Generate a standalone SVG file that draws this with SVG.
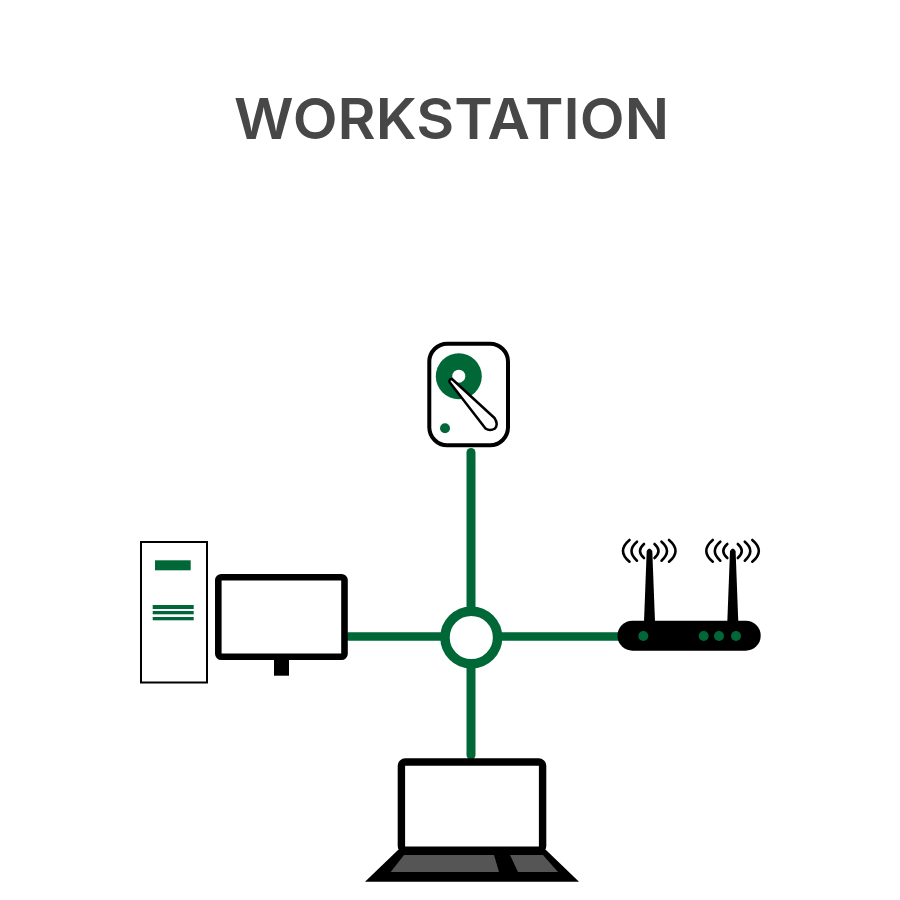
<svg xmlns="http://www.w3.org/2000/svg" width="900" height="900" viewBox="0 0 900 900">
<style>
.title{font-family:"Inter","Liberation Sans",sans-serif;font-size:57px;font-weight:600;fill:#474747}
.green{fill:#006837}
.k{fill:#000}
.w{fill:#fff}
.wave{fill:none;stroke:#000;stroke-width:2.600;stroke-linecap:round}
.gray{fill:#555}
</style>
<rect width="900" height="900" fill="#fff"/>
<text class="title" x="234" y="138.500" textLength="435" lengthAdjust="spacingAndGlyphs">WORKSTATION</text>
<g id="connectors" fill="none" stroke="#006837" stroke-linecap="round">
<path d="M471 452.500V755" stroke-width="9"/>
<path d="M349 636.500H622" stroke-width="8.500"/>
</g>
<g id="hub"><circle cx="471.300" cy="637.500" r="26.300" fill="#fff" stroke="#006837" stroke-width="9.500"/></g>
<g id="disk">
<rect x="429.300" y="343.700" width="78.700" height="101.600" rx="18" fill="#fff" stroke="#000" stroke-width="4"/>
<circle class="green" cx="458.800" cy="376.200" r="23"/>
<circle class="w" cx="458.800" cy="376.200" r="6.500"/>
<path d="M449.500 382Q449 379 452 379L494.500 418Q498.500 424 495 428.500Q490 431.500 485.500 428.500Z" fill="#fff" stroke="#000" stroke-width="2.500" stroke-linejoin="round"/>
<circle class="green" cx="445" cy="428.300" r="5"/>
</g>
<g id="router">
<rect class="k" x="617.500" y="620.700" width="143.200" height="30" rx="15"/>
<path class="k" d="M644 622L646.700 551Q649.300 546 652.300 551L655 622Z"/>
<path class="k" d="M727.300 622L730 551Q732.800 546 735.600 551L738.300 622Z"/>
<circle class="green" cx="643.300" cy="636" r="5"/>
<circle class="green" cx="703.700" cy="636" r="5"/>
<circle class="green" cx="719" cy="636" r="5"/>
<circle class="green" cx="736" cy="636" r="5"/>
<g class="wave">
<path d="M644 544Q636 551 644 558M637 541.700Q626 551 637 560.700M629.500 540Q616.500 551 629.500 561.700"/>
<path d="M654.500 544Q662.500 551 654.500 558M661.500 541.700Q672.500 551 661.500 560.700M669 540Q682 551 669 561.700"/>
<path d="M727.300 544Q719.300 551 727.300 558M720.300 541.700Q709.300 551 720.300 560.700M712.800 540Q699.800 551 712.800 561.700"/>
<path d="M737.800 544Q745.800 551 737.800 558M744.800 541.700Q755.800 551 744.800 560.700M752.300 540Q765.300 551 752.300 561.700"/>
</g>
</g>
<g id="computer">
<rect x="141" y="542" width="66" height="140.500" fill="#fff" stroke="#000" stroke-width="2"/>
<rect class="green" x="155" y="560.300" width="35.700" height="10"/>
<rect class="green" x="152.700" y="605" width="41" height="4"/>
<rect class="green" x="152.700" y="611" width="41" height="3.300"/>
<rect class="green" x="152.700" y="617" width="41" height="3.300"/>
<rect class="k" x="274" y="655" width="15" height="20.700"/>
<rect x="218.300" y="577.300" width="126.200" height="79.400" rx="3" fill="#fff" stroke="#000" stroke-width="6.600"/>
</g>
<g id="laptop">
<path class="k" d="M398 850L365 881.800H579L546 850Z"/>
<path class="gray" d="M404 855H494L499 872H390.700Z"/>
<path class="gray" d="M510 855H543L558 872H518Z"/>
<rect x="401.400" y="762" width="141.200" height="88.300" rx="4" fill="#fff" stroke="#000" stroke-width="7.400"/>
</g>
</svg>
